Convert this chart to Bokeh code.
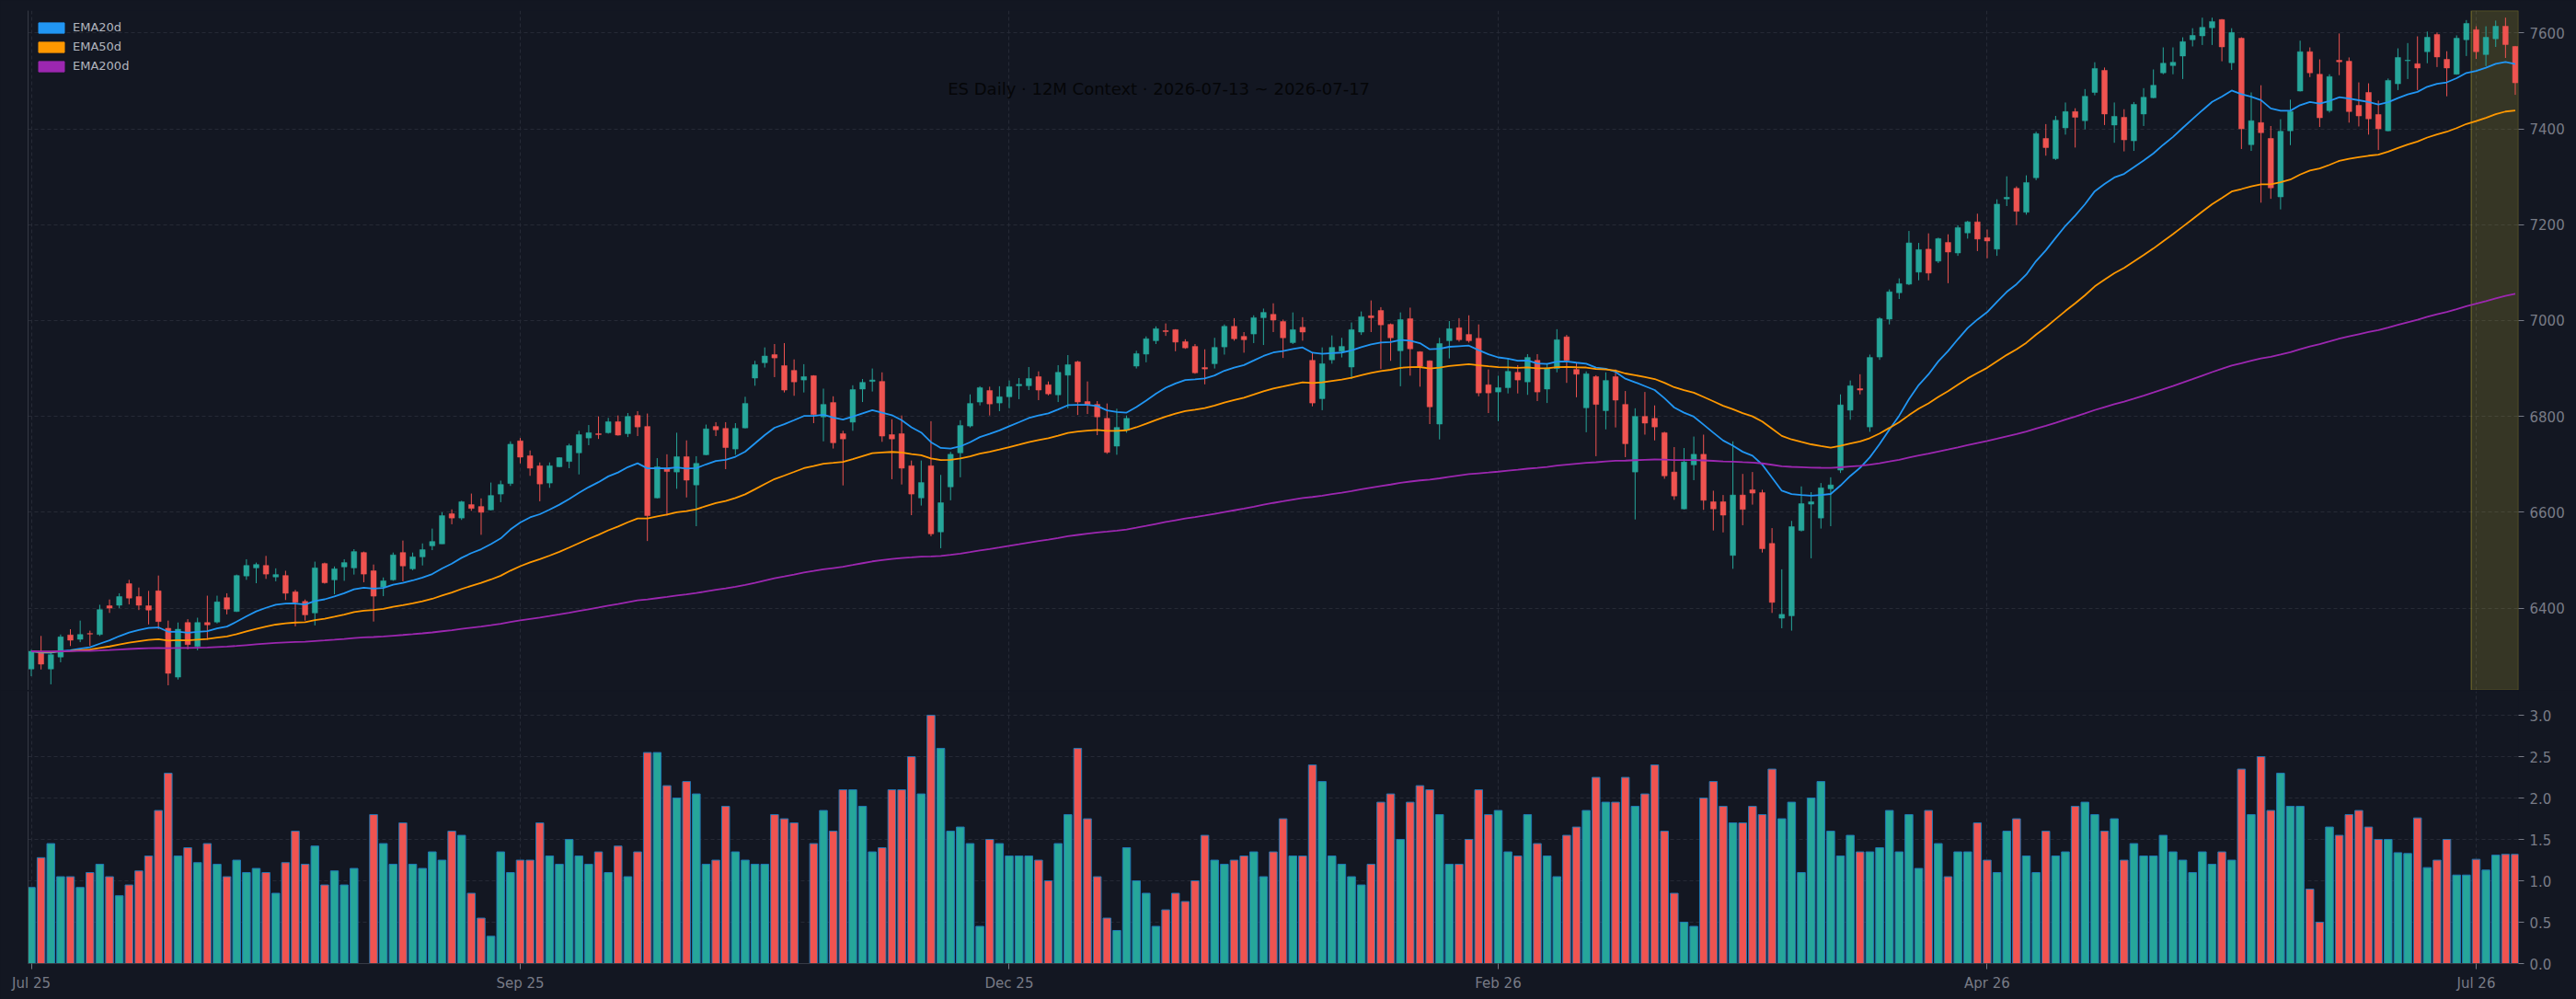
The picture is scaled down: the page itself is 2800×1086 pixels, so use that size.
import pandas as pd
from bokeh.plotting import figure
from bokeh.models import (Range1d, FixedTicker, NumeralTickFormatter, BoxAnnotation,
                          Label, LinearAxis, Legend, LegendItem, ColumnDataSource)
from bokeh.layouts import column
from bokeh.embed import file_html
from bokeh.resources import INLINE

# ---------------- data ----------------
opens = [6273,6308,6273,6298,6344,6335,6347,6345,6405,6406,6451,6424,6405,6436,6358,6256,6370,6320,6370,6371,
         6422,6393,6467,6484,6489,6465,6468,6434,6414,6390,6493,6459,6486,6484,6516,6478,6444,6459,6516,6482,
         6507,6530,6534,6597,6588,6616,6612,6605,6638,6660,6749,6718,6697,6661,6695,6706,6724,6755,6764,6766,
         6789,6764,6802,6779,6630,6692,6684,6716,6657,6720,6779,6775,6732,6776,6880,6912,6929,6906,6896,6876,
         6885,6799,6829,6764,6788,6857,6873,6873,6762,6764,6697,6630,6697,6559,6653,6724,6780,6830,6854,6828,
         6841,6864,6864,6883,6866,6845,6886,6914,6831,6825,6796,6738,6771,6905,6930,6958,6979,6981,6956,6946,
         6902,6910,6945,6988,6967,6972,7006,7013,6998,6954,6986,6917,6837,6918,6936,6903,6976,7010,7021,6992,
         6937,7004,6935,6916,6784,6958,6985,6971,6963,6866,6851,6860,6892,6872,6917,6857,6900,6966,6898,6818,
         6883,6812,6883,6825,6684,6800,6796,6766,6684,6607,6699,6721,6622,6622,6510,6636,6647,6641,6535,6379,
         6384,6562,6617,6588,6649,6688,6813,6858,6778,6924,7003,7058,7076,7101,7149,7124,7163,7141,7183,7206,
         7173,7149,7254,7276,7226,7298,7380,7338,7402,7436,7417,7476,7522,7408,7424,7375,7431,7465,7517,7532,
         7552,7586,7594,7611,7628,7538,7589,7367,7413,7380,7258,7396,7479,7561,7514,7438,7543,7541,7449,7476,
         7430,7396,7494,7542,7536,7561,7597,7545,7514,7586,7607,7555,7588,7614,7572]
highs = [6313,6342,6308,6345,6356,6374,6353,6407,6418,6431,6459,6443,6436,6468,6374,6370,6377,6380,6426,6426,
         6431,6470,6502,6495,6509,6483,6478,6438,6418,6497,6495,6487,6502,6523,6518,6491,6464,6516,6541,6516,
         6535,6566,6600,6606,6624,6639,6629,6662,6666,6748,6755,6729,6704,6704,6715,6743,6770,6782,6800,6797,
         6802,6807,6811,6806,6713,6721,6766,6750,6717,6783,6788,6788,6786,6841,6916,6944,6951,6953,6919,6909,
         6886,6858,6842,6770,6865,6878,6900,6892,6794,6802,6708,6708,6790,6678,6726,6792,6846,6863,6862,6863,
         6875,6880,6903,6894,6873,6907,6928,6916,6873,6832,6827,6816,6802,6937,6967,6988,6994,6982,6961,6951,
         6940,6964,6992,7005,6976,7011,7025,7036,7002,7017,7007,6933,6944,6969,6964,6996,7019,7042,7028,6994,
         7017,7027,6936,6917,6964,6999,7005,7011,6992,6898,6885,6922,6907,6930,6930,6911,6982,6970,6911,6894,
         6886,6892,6898,6853,6817,6851,6823,6768,6736,6734,6758,6762,6645,6636,6748,6680,6684,6647,6567,6481,
         6582,6654,6642,6661,6673,6846,6875,6888,6929,7007,7065,7088,7187,7162,7182,7173,7180,7199,7208,7223,
         7190,7253,7301,7280,7303,7394,7410,7427,7455,7443,7483,7539,7528,7455,7441,7456,7485,7524,7570,7570,
         7591,7610,7632,7632,7629,7610,7591,7476,7491,7406,7420,7461,7584,7570,7545,7514,7599,7549,7497,7495,
         7459,7505,7568,7579,7593,7603,7601,7562,7595,7627,7614,7614,7626,7632,7573]
lows = [6258,6272,6241,6287,6321,6329,6321,6342,6390,6400,6408,6396,6366,6356,6239,6251,6314,6312,6334,6368,
        6387,6392,6459,6452,6461,6456,6417,6362,6374,6364,6451,6429,6457,6470,6454,6372,6425,6457,6456,6479,
        6489,6521,6534,6575,6584,6603,6553,6604,6621,6655,6702,6676,6623,6651,6694,6692,6679,6740,6753,6764,
        6760,6757,6759,6540,6629,6593,6649,6631,6571,6719,6759,6690,6720,6775,6864,6902,6882,6850,6843,6850,
        6786,6748,6733,6656,6770,6830,6852,6747,6669,6658,6594,6614,6550,6525,6625,6673,6777,6823,6802,6811,
        6817,6836,6855,6834,6844,6830,6817,6803,6805,6761,6722,6720,6766,6900,6913,6951,6968,6936,6941,6889,
        6867,6900,6929,6958,6933,6953,6949,6976,6922,6951,6958,6821,6813,6910,6923,6878,6970,6976,6899,6916,
        6863,6885,6862,6784,6752,6921,6956,6954,6842,6807,6790,6848,6848,6845,6832,6828,6892,6870,6840,6767,
        6717,6773,6777,6715,6585,6762,6750,6670,6626,6606,6667,6605,6562,6558,6482,6573,6616,6516,6390,6358,
        6353,6560,6504,6566,6571,6682,6793,6846,6768,6918,6992,7045,7074,7084,7084,7120,7078,7135,7171,7145,
        7130,7135,7239,7199,7221,7293,7344,7335,7388,7361,7399,7470,7408,7371,7353,7354,7406,7464,7514,7514,
        7504,7572,7575,7575,7541,7523,7358,7354,7246,7254,7232,7366,7478,7508,7404,7434,7512,7413,7405,7388,
        7356,7395,7481,7504,7481,7537,7529,7468,7513,7552,7546,7531,7571,7548,7471]
closes = [6310,6283,6303,6340,6333,6345,6346,6397,6400,6424,6421,6406,6396,6372,6264,6356,6324,6370,6365,6413,
          6398,6468,6489,6491,6471,6470,6431,6412,6386,6484,6453,6482,6495,6518,6471,6425,6457,6511,6488,6507,
          6522,6539,6593,6588,6622,6608,6600,6635,6658,6742,6715,6692,6659,6697,6714,6739,6762,6766,6762,6789,
          6761,6800,6778,6593,6695,6685,6716,6667,6702,6774,6772,6735,6775,6827,6908,6926,6922,6855,6872,6883,
          6804,6825,6745,6753,6856,6871,6876,6759,6753,6692,6638,6662,6555,6620,6721,6781,6827,6860,6826,6841,
          6862,6867,6879,6855,6847,6892,6908,6830,6825,6799,6725,6777,6796,6931,6962,6983,6977,6955,6943,6891,
          6899,6944,6988,6962,6960,7006,7017,7001,6964,6981,6976,6828,6910,6944,6946,6981,7008,7006,6991,6964,
          7002,6941,6905,6820,6952,6983,6960,6958,6849,6849,6860,6894,6876,6923,6851,6901,6960,6917,6888,6889,
          6825,6875,6834,6743,6800,6786,6778,6676,6634,6705,6721,6625,6607,6594,6636,6606,6640,6524,6412,6387,
          6570,6618,6622,6651,6657,6824,6864,6855,6923,7004,7060,7077,7162,7148,7099,7171,7143,7194,7206,7170,
          7166,7243,7257,7228,7288,7390,7361,7418,7436,7424,7468,7526,7431,7426,7377,7451,7466,7491,7537,7539,
          7582,7595,7612,7624,7571,7601,7400,7417,7392,7277,7395,7436,7561,7517,7423,7509,7540,7436,7427,7421,
          7400,7501,7549,7543,7527,7591,7550,7527,7589,7620,7561,7591,7614,7576,7496]
volumes = [0.92,1.28,1.45,1.05,1.05,0.92,1.10,1.20,1.05,0.82,0.95,1.12,1.30,1.85,2.30,1.30,1.40,1.22,1.45,1.20,
           1.05,1.25,1.10,1.15,1.10,0.85,1.22,1.60,1.20,1.42,0.95,1.12,0.95,1.15,0.00,1.80,1.45,1.20,1.70,1.20,
           1.15,1.35,1.25,1.60,1.55,0.85,0.55,0.33,1.35,1.10,1.25,1.25,1.70,1.30,1.20,1.50,1.30,1.20,1.35,1.10,
           1.42,1.05,1.35,2.55,2.55,2.15,2.00,2.20,2.05,1.20,1.25,1.90,1.35,1.25,1.20,1.20,1.80,1.75,1.70,0.00,
           1.45,1.85,1.60,2.10,2.10,1.90,1.35,1.40,2.10,2.10,2.50,2.05,3.00,2.60,1.60,1.65,1.45,0.45,1.50,1.45,
           1.30,1.30,1.30,1.25,1.00,1.45,1.80,2.60,1.75,1.05,0.55,0.40,1.40,1.00,0.85,0.45,0.65,0.85,0.75,1.00,
           1.55,1.25,1.20,1.25,1.30,1.35,1.05,1.35,1.75,1.30,1.30,2.40,2.20,1.30,1.20,1.05,0.95,1.20,1.95,2.05,
           1.50,1.95,2.15,2.10,1.80,1.20,1.20,1.50,2.10,1.80,1.85,1.35,1.30,1.80,1.45,1.30,1.05,1.55,1.65,1.85,
           2.25,1.95,1.95,2.25,1.90,2.05,2.40,1.60,0.85,0.50,0.45,2.00,2.20,1.90,1.70,1.70,1.90,1.80,2.35,1.75,
           1.95,1.10,2.00,2.20,1.60,1.30,1.55,1.35,1.35,1.40,1.85,1.35,1.80,1.15,1.85,1.45,1.05,1.35,1.35,1.70,
           1.25,1.10,1.60,1.75,1.30,1.10,1.60,1.30,1.35,1.90,1.95,1.80,1.60,1.75,1.25,1.45,1.30,1.30,1.55,1.35,
           1.25,1.10,1.35,1.20,1.35,1.25,2.35,1.80,2.50,1.85,2.30,1.90,1.90,0.90,0.50,1.65,1.55,1.80,1.85,1.65,
           1.50,1.50,1.34,1.33,1.76,1.16,1.25,1.50,1.07,1.07,1.26,1.13,1.31,1.32,1.32]

tick_index = [0, 50, 100, 150, 200, 250]
tick_labels = ["Jul 25", "Sep 25", "Dec 25", "Feb 26", "Apr 26", "Jul 26"]
price_ticks = [6400, 6600, 6800, 7000, 7200, 7400, 7600]
volume_ticks = [0.0, 0.5, 1.0, 1.5, 2.0, 2.5, 3.0]
ema_spans = [20, 50, 200]
ema_names = ["EMA20d", "EMA50d", "EMA200d"]
highlight_first_bar = 250          # 2026-07-13
title_text = "ES Daily · 12M Context · 2026-07-13 ~ 2026-07-17"

# ---------------- style ----------------
BG = "#131722"
UP = "#26a69a"
DN = "#ef5350"
EDGE = "#1f77b4"
EMA_COLORS = ["#2196f3", "#ff9800", "#9c27b0"]
TXT = "#787b86"
SPINE = "#363a45"
GRID = "#262a36"
FONT = "DejaVu Sans"

df = pd.DataFrame(dict(i=list(range(len(closes))), o=opens, h=highs, l=lows, c=closes, v=volumes))
df["top"] = df[["o", "c"]].max(axis=1)
df["bot"] = df[["o", "c"]].min(axis=1)
df["color"] = [UP if c >= o else DN for o, c in zip(opens, closes)]
for s in ema_spans:
    df[f"ema{s}"] = df["c"].ewm(span=s, adjust=False).mean()
src = ColumnDataSource(df)

n = len(closes)
xr = Range1d(-0.33, n - 1 + 0.33)


def style_right_axis(ax, ticks, fmt):
    ax.ticker = FixedTicker(ticks=ticks)
    ax.formatter = NumeralTickFormatter(format=fmt)
    ax.axis_line_color = None
    ax.major_tick_line_color = TXT
    ax.major_tick_out = 6
    ax.major_tick_in = 0
    ax.minor_tick_line_color = None
    ax.major_label_text_color = TXT
    ax.major_label_text_font = FONT
    ax.major_label_text_font_size = "15px"
    ax.major_label_standoff = 6


def style_common(fig, yticks, fmt):
    fig.background_fill_color = BG
    fig.border_fill_color = BG
    fig.outline_line_color = None
    fig.xgrid.ticker = FixedTicker(ticks=tick_index)
    fig.ygrid.ticker = FixedTicker(ticks=yticks)
    for g in (fig.xgrid, fig.ygrid):
        g.grid_line_color = GRID
        g.grid_line_dash = "4 3"
        g.grid_line_width = 1
    right_axis = fig.right[0]
    style_right_axis(right_axis, yticks, fmt)
    spine = LinearAxis(ticker=FixedTicker(ticks=[]), axis_line_color=SPINE,
                       major_tick_line_color=None, minor_tick_line_color=None,
                       major_label_text_font_size="0px")
    fig.add_layout(spine, "left")


# ---------------- price panel ----------------
p = figure(frame_width=2707, frame_height=739, x_range=xr, y_range=Range1d(6228.4, 7646.8),
           output_backend="svg", toolbar_location=None, y_axis_location="right",
           min_border_left=30, min_border_right=63, min_border_top=11, min_border_bottom=0)
style_common(p, price_ticks, "0")
p.xaxis.visible = False

p.add_layout(BoxAnnotation(left=highlight_first_bar - 0.5, fill_color="#ffeb3b", fill_alpha=0.15,
                           line_color="#ffeb3b", line_alpha=0.25, line_width=1.5, level="underlay"))

p.segment(x0="i", y0="l", x1="i", y1="h", line_color="color", line_width=1, source=src)
p.vbar(x="i", top="top", bottom="bot", width=0.55, fill_color="color", line_color="color",
       line_width=0.5, source=src)
for s, col in zip(ema_spans, EMA_COLORS):
    p.line(x="i", y=f"ema{s}", line_color=col, line_width=1.8, source=src)

nan = float("nan")
items = []
for name, col in zip(ema_names, EMA_COLORS):
    r = p.quad(left=[nan], right=[nan], top=[nan], bottom=[nan], fill_color=col, line_color=col)
    items.append(LegendItem(label=name, renderers=[r]))
legend = Legend(items=items, location="top_left", background_fill_alpha=0, border_line_color=None,
                label_text_color="#b2b5be", label_text_font=FONT, label_text_font_size="13px",
                glyph_width=35, glyph_height=14, label_standoff=6, label_height=21, spacing=0,
                padding=0, margin=8)
p.add_layout(legend)

p.add_layout(Label(x=115.3, y=7484, text=title_text, text_align="center", text_baseline="middle",
                   text_color="#050608", text_font=FONT, text_font_size="18px"))

# ---------------- volume panel ----------------
pv = figure(frame_width=2707, frame_height=296, x_range=xr, y_range=Range1d(0, 3.29),
            output_backend="svg", toolbar_location=None, y_axis_location="right",
            min_border_left=30, min_border_right=63, min_border_top=1, min_border_bottom=39)
style_common(pv, volume_ticks, "0.0")
xa = pv.below[0]
xa.ticker = FixedTicker(ticks=tick_index)
xa.major_label_overrides = {t: lbl for t, lbl in zip(tick_index, tick_labels)}
xa.axis_line_color = SPINE
xa.major_tick_line_color = TXT
xa.major_tick_out = 6
xa.major_tick_in = 0
xa.minor_tick_line_color = None
xa.major_label_text_color = TXT
xa.major_label_text_font = FONT
xa.major_label_text_font_size = "15px"
xa.major_label_standoff = 6

pv.vbar(x="i", top="v", bottom=0, width=0.8, fill_color="color", line_color=EDGE, line_width=1,
        source=src)

layout = column(p, pv, spacing=0)
layout.styles = {"background-color": BG}
open("out.html", "w").write(file_html(layout, INLINE))
